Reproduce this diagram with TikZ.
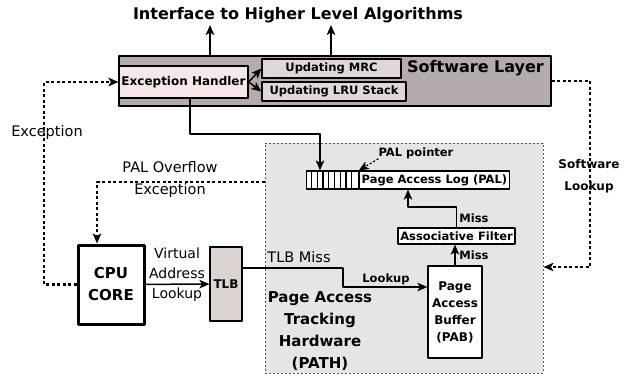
\documentclass[tikz,border=0pt]{standalone}
\usepackage{fontspec}
\setmainfont{DejaVu Sans}
\usetikzlibrary{arrows.meta}
\definecolor{b4acac}{RGB}{180,172,172}
\definecolor{f6e8e8}{RGB}{246,232,232}
\definecolor{e0d8d8}{RGB}{224,216,216}
\definecolor{dcd3d3}{RGB}{220,211,211}
\definecolor{e5e5e5}{RGB}{229,229,229}
\definecolor{uuuuuu}{RGB}{90,90,90}
\tikzset{
  blk/.style={draw=black,line width=1.2pt,inner sep=0pt,font=\fontsize{11.5}{13}\selectfont\bfseries},
  lbl/.style={font=\fontsize{11.5}{13}\selectfont\bfseries,inner sep=0pt},
  txt/.style={font=\fontsize{14.5}{22}\selectfont,align=center,inner sep=0pt},
  conn/.style={line width=1.5pt},
  exc/.style={line width=2.2pt,dash pattern=on 3pt off 2.5pt}
}
\begin{document}
\begin{tikzpicture}[line join=round,>={Stealth[length=10pt,width=8.5pt,inset=2.5pt]},x=1pt,y=-1pt]
\useasboundingbox (0,0) rectangle (637,376);
% software layer
\node[draw=black,line width=1.5pt,fill=b4acac,minimum width=432pt,minimum height=50pt,inner sep=0pt] (sw) at (335,81) {};
\node[blk,fill=f6e8e8,minimum width=129pt,minimum height=32pt,font=\fontsize{12}{14}\selectfont\bfseries] (eh) at (183.5,82) {Exception Handler};
\node[blk,fill=e0d8d8,minimum width=139pt,minimum height=19pt] (mrc) at (331.5,68.5) {Updating MRC};
\node[blk,fill=e0d8d8,minimum width=144pt,minimum height=19pt] (lru) at (334,91.5) {Updating LRU Stack};
\node[font=\fontsize{16}{19}\selectfont\bfseries,inner sep=0pt] (swname) at (475.5,68) {Software Layer};
\node[font=\fontsize{16}{19}\selectfont\bfseries,inner sep=0pt] (title) at (298,15) {Interface to Higher Level Algorithms};
\coordinate (up1) at (210,25);
\coordinate (up2) at (331,25);
\draw[conn,->] (sw.north -| up1) -- (up1);
\draw[conn,->] (sw.north -| up2) -- (up2);
\draw[conn,->] (eh.east) -- (mrc.west);
\draw[conn,->] (eh.east) -- (lru.west);
% hardware
\node[draw=uuuuuu,line width=1pt,dash pattern=on 2pt off 2pt,fill=e5e5e5,minimum width=278pt,minimum height=230pt,inner sep=0pt] (hw) at (404,258) {};
\node[font=\fontsize{15}{22}\selectfont\bfseries,align=center,inner sep=0pt] (hwname) at (320,331) {Page Access\\Tracking\\Hardware\\(PATH)};
\node[blk,fill=white,minimum width=150pt,minimum height=18pt,anchor=east] (pal) at (510,180) {Page Access Log (PAL)};
\node[blk,fill=white,minimum width=52pt,minimum height=18pt,anchor=east] (cells) at (pal.west) {};
\foreach \i in {1,...,8}
\draw[line width=1.2pt] (cells.north west) ++(\i*5.78,0) -- ++(0,18);
\node[lbl] (ptr) at (416,153) {PAL pointer};
\draw[line width=1.2pt,dash pattern=on 2pt off 2pt,->] (ptr.south west) -- (cells.north east);
\node[blk,fill=white,minimum width=117pt,minimum height=16pt] (af) at (456.5,236) {Associative Filter};
\node[blk,fill=white,minimum width=54pt,minimum height=92pt,align=center,font=\fontsize{12}{17}\selectfont\bfseries] (pab) at (455,312) {Page\\Access\\Buffer\\(PAB)};
\node[draw=black,line width=3pt,minimum width=66pt,minimum height=79pt,inner sep=0pt,align=center,font=\fontsize{15}{22}\selectfont\bfseries] (cpu) at (111,284.5) {CPU\\CORE};
\node[blk,fill=dcd3d3,minimum width=32pt,minimum height=74pt,font=\fontsize{12}{14}\selectfont\bfseries] (tlb) at (226,284) {TLB};
% connectors
\draw[conn,->] (cpu) -- (tlb);
\node[txt,font=\fontsize{14}{20}\selectfont] (vlab) at (177,275) {Virtual\\Address\\Lookup};
\coordinate (tb1) at (343,268);
\coordinate (tb2) at (343,287);
\draw[conn,->] (tlb.east |- tb1) -- (tb1) -- (tb2) -- (pab.west |- tb2);
\node[txt] (tlbmiss) at (299,257) {TLB Miss};
\node[lbl] (look) at (386,279) {Lookup};
\draw[conn,->] (pab.north) -- (af.south -| pab.north);
\node[lbl] (miss1) at (474,255) {Miss};
\coordinate (afb) at (408,207);
\draw[conn,->] (af.north) |- (afb) -- (pal.south -| afb);
\node[lbl] (miss2) at (474,218) {Miss};
\coordinate (eb1) at (190,134);
\coordinate (eb2) at (320,134);
\draw[conn,->] (eh.south -| eb1) -- (eb1) -- (eb2) -- (cells.north -| eb2);
% exceptions and lookups
\coordinate (ex) at (44,284.5);
\draw[exc,->] (cpu.west) -- (ex) |- (eh.west);
\node[txt] (exlab) at (47,132) {Exception};
\coordinate (ov1) at (97,182);
\draw[exc,->] (hw.west |- ov1) -- (ov1) -- (cpu.north -| ov1);
\node[txt] (ovlab) at (170,179) {PAL Overflow\\Exception};
\coordinate (sl1) at (590,81);
\coordinate (sl2) at (590,267);
\draw[exc,->] (sw.east) -- (sl1) -- (sl2) -- (hw.east |- sl2);
\node[font=\fontsize{12}{22}\selectfont\bfseries,align=center,inner sep=0pt] (sllab) at (589,176) {Software\\Lookup};
\end{tikzpicture}
\end{document}
